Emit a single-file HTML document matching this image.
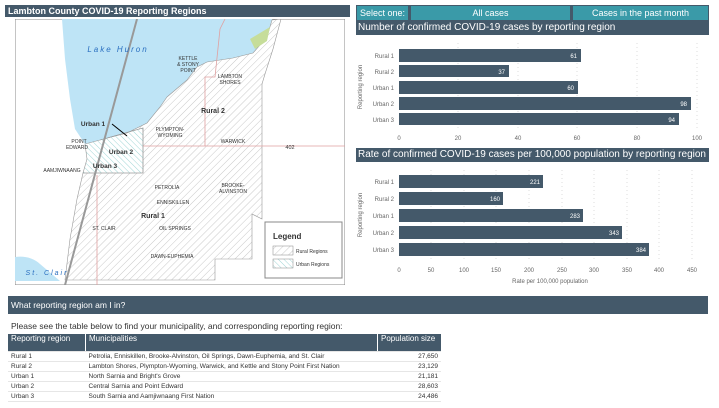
<!DOCTYPE html>
<html><head><meta charset="utf-8"><style>
body{margin:0;width:719px;height:408px;background:#fff;font-family:"Liberation Sans",sans-serif;overflow:hidden;position:relative}
.a{position:absolute}
.dk{background:#44596a;color:#fff}
.tl{background:#3a9aa8;color:#fff;text-align:center;font-size:9px;line-height:14px}
table{border-collapse:collapse;font-size:6.5px;color:#333}
td{padding:0 3px;height:9px;border-bottom:1px solid #e6e6e6;white-space:nowrap}
</style></head><body>
<div class="a dk" style="left:5px;top:5px;width:345px;height:12px;font-size:9px;font-weight:bold;line-height:12px;padding-left:3px;box-sizing:border-box">Lambton County COVID-19 Reporting Regions</div>
<svg class="a" style="left:15px;top:19px" width="330" height="266" viewBox="0 0 330 266">
<defs>
<pattern id="r" width="5" height="5" patternUnits="userSpaceOnUse" patternTransform="rotate(45)"><line x1="0" y1="0" x2="0" y2="5" stroke="#bbb" stroke-width="0.8"/></pattern>
<pattern id="u" width="4" height="4" patternUnits="userSpaceOnUse" patternTransform="rotate(-45)"><line x1="0" y1="0" x2="0" y2="4" stroke="#8cc" stroke-width="0.8"/></pattern>
</defs>
<rect width="330" height="266" fill="#fff" stroke="#888"/>
<path d="M47 0 L257 0 L252 18 L238 34 L218 39 L192 43 L182 48 L172 61 L152 78 L145 88 L132 104 L112 114 L85 121 L70 125 L60 110 L55 80 L50 40 Z" fill="#bee4f6"/>
<path d="M0 238 Q15 236 25 245 L45 262 L0 262Z" fill="#bee4f6"/>
<path d="M85 121 L112 114 L132 104 L145 88 L152 78 L172 61 L182 48 L192 43 L218 39 L238 34 L252 18 L257 1 L266 0 L258 30 L250 55 L247 65 L247 200 L237 195 L237 240 L200 240 L200 261 L50 261 L55 220 L62 180 L68 154 L128 154 L128 109 L85 121 Z" fill="url(#r)" stroke="#999" stroke-width="0.6"/>
<path d="M70 125 L85 121 L128 109 L128 154 L68 154 L72 140 Z" fill="url(#u)" stroke="#999" stroke-width="0.6"/>
<path d="M235 20 L255 8 L252 22 L240 30Z" fill="#c6dd9a"/>
<path d="M128 127 L330 127 M190 127 L190 58 L200 58 L205 10 L210 0 M82 156 L82 266" stroke="#e0a0a0" stroke-width="0.8" fill="none"/>
<line x1="122" y1="0" x2="50" y2="266" stroke="#999" stroke-width="2"/>
<line x1="97" y1="105" x2="112" y2="117" stroke="#000" stroke-width="1"/>
<g font-size="5px" fill="#333" text-anchor="middle">
<text x="103" y="33" font-size="8px" fill="#2a6fc0" font-style="italic" letter-spacing="2">Lake Huron</text>
<text x="173" y="41">KETTLE</text><text x="173" y="47">&amp; STONY</text><text x="173" y="53">POINT</text>
<text x="215" y="59">LAMBTON</text><text x="215" y="65">SHORES</text>
<text x="198" y="94" font-size="7px" font-weight="bold">Rural 2</text>
<text x="78" y="107" font-size="6.5px" font-weight="bold">Urban 1</text>
<text x="155" y="112">PLYMPTON-</text><text x="155" y="118">WYOMING</text>
<text x="218" y="124">WARWICK</text>
<text x="64" y="124">POINT</text><text x="62" y="130">EDWARD</text>
<text x="106" y="135" font-size="6.5px" font-weight="bold">Urban 2</text>
<text x="90" y="149" font-size="6.5px" font-weight="bold">Urban 3</text>
<text x="47" y="153">AAMJIWNAANG</text>
<text x="152" y="170">PETROLIA</text><text x="218" y="168">BROOKE-</text><text x="218" y="174">ALVINSTON</text>
<text x="158" y="185">ENNISKILLEN</text>
<text x="138" y="199" font-size="7px" font-weight="bold">Rural 1</text>
<text x="89" y="211">ST. CLAIR</text><text x="160" y="211">OIL SPRINGS</text>
<text x="157" y="239">DAWN-EUPHEMIA</text>
<text x="32" y="256" font-size="7px" fill="#2a6fc0" font-style="italic" letter-spacing="2">St. Clair</text>
<text x="275" y="130" font-size="5.5px">402</text>
</g>
<rect x="250" y="203" width="77" height="56" fill="#fff" stroke="#888"/>
<text x="258" y="220" font-size="8px" font-weight="bold" fill="#333">Legend</text>
<rect x="258" y="227" width="20" height="9" fill="url(#r)" stroke="#888" stroke-width="0.5"/><text x="281" y="234" font-size="5px" fill="#333">Rural Regions</text>
<rect x="258" y="240" width="20" height="9" fill="url(#u)" stroke="#888" stroke-width="0.5"/><text x="281" y="247" font-size="5px" fill="#333">Urban Regions</text>
</svg>

<div class="a dk" style="left:356px;top:5px;width:353px;height:16px"></div>
<div class="a tl" style="left:357px;top:6px;width:51px">Select one:</div>
<div class="a tl" style="left:411px;top:6px;width:159px">All cases</div>
<div class="a tl" style="left:573px;top:6px;width:135px">Cases in the past month</div>
<div class="a dk" style="left:356px;top:21px;width:353px;height:14px;font-size:10px;line-height:14px;padding-left:2px;box-sizing:border-box">Number of confirmed COVID-19 cases by reporting region</div>
<div class="a dk" style="left:356px;top:148px;width:353px;height:14px;font-size:10px;line-height:14px;padding-left:2px;box-sizing:border-box">Rate of confirmed COVID-19 cases per 100,000 population by reporting region</div>

<svg class="a" style="left:355px;top:35px" width="364" height="113" font-size="6px" fill="#666">
<g stroke="#ddd" stroke-dasharray="1 3"><line x1="103" y1="8" x2="103" y2="95"/><line x1="163" y1="8" x2="163" y2="95"/><line x1="222" y1="8" x2="222" y2="95"/><line x1="282" y1="8" x2="282" y2="95"/><line x1="342" y1="8" x2="342" y2="95"/></g>
<g fill="#44596a"><rect x="44" y="14" width="182" height="13"/><rect x="44" y="30" width="110" height="12"/><rect x="44" y="46" width="179" height="13"/><rect x="44" y="62" width="292" height="13"/><rect x="44" y="78" width="280" height="12"/></g>
<g fill="#fff" text-anchor="end"><text x="222" y="23">61</text><text x="150" y="39">37</text><text x="219" y="55">60</text><text x="332" y="71">98</text><text x="320" y="87">94</text></g>
<g text-anchor="end"><text x="39" y="23">Rural 1</text><text x="39" y="39">Rural 2</text><text x="39" y="55">Urban 1</text><text x="39" y="71">Urban 2</text><text x="39" y="87">Urban 3</text></g>
<g text-anchor="middle"><text x="44" y="105">0</text><text x="103" y="105">20</text><text x="163" y="105">40</text><text x="222" y="105">60</text><text x="282" y="105">80</text><text x="342" y="105">100</text></g>
<text transform="translate(7,52) rotate(-90)" text-anchor="middle">Reporting region</text>
</svg>

<svg class="a" style="left:355px;top:162px" width="364" height="128" font-size="6px" fill="#666">
<g stroke="#ddd" stroke-dasharray="1 3"><line x1="76" y1="8" x2="76" y2="98"/><line x1="109" y1="8" x2="109" y2="98"/><line x1="141" y1="8" x2="141" y2="98"/><line x1="174" y1="8" x2="174" y2="98"/><line x1="207" y1="8" x2="207" y2="98"/><line x1="239" y1="8" x2="239" y2="98"/><line x1="272" y1="8" x2="272" y2="98"/><line x1="304" y1="8" x2="304" y2="98"/><line x1="337" y1="8" x2="337" y2="98"/></g>
<g fill="#44596a"><rect x="44" y="13" width="144" height="13"/><rect x="44" y="30" width="104" height="13"/><rect x="44" y="47" width="184" height="13"/><rect x="44" y="64" width="223" height="13"/><rect x="44" y="81" width="250" height="13"/></g>
<g fill="#fff" text-anchor="end"><text x="185" y="22">221</text><text x="145" y="39">160</text><text x="225" y="56">283</text><text x="264" y="73">343</text><text x="291" y="90">384</text></g>
<g text-anchor="end"><text x="39" y="22">Rural 1</text><text x="39" y="39">Rural 2</text><text x="39" y="56">Urban 1</text><text x="39" y="73">Urban 2</text><text x="39" y="90">Urban 3</text></g>
<g text-anchor="middle"><text x="44" y="110">0</text><text x="76" y="110">50</text><text x="109" y="110">100</text><text x="141" y="110">150</text><text x="174" y="110">200</text><text x="207" y="110">250</text><text x="239" y="110">300</text><text x="272" y="110">350</text><text x="304" y="110">400</text><text x="337" y="110">450</text></g>
<text x="195" y="121" text-anchor="middle">Rate per 100,000 population</text>
<text transform="translate(7,53) rotate(-90)" text-anchor="middle">Reporting region</text>
</svg>

<div class="a dk" style="left:8px;top:296px;width:700px;height:18px;font-size:8.5px;line-height:18px;padding-left:3px;box-sizing:border-box">What reporting region am I in?</div>
<div class="a" style="left:11px;top:321px;font-size:8.5px;color:#333">Please see the table below to find your municipality, and corresponding reporting region:</div>
<table class="a" style="left:8px;top:334px;width:433px">
<tr style="font-size:8px;color:#fff;background:#44596a"><td style="height:17px;width:71px;border-right:1px solid #fff;vertical-align:top">Reporting region</td><td style="border-right:1px solid #fff;vertical-align:top">Municipalities</td><td style="width:57px;vertical-align:top">Population size</td></tr>
<tr><td>Rural 1</td><td>Petrolia, Enniskillen, Brooke-Alvinston, Oil Springs, Dawn-Euphemia, and St. Clair</td><td style="text-align:right">27,650</td></tr>
<tr><td>Rural 2</td><td>Lambton Shores, Plympton-Wyoming, Warwick, and Kettle and Stony Point First Nation</td><td style="text-align:right">23,129</td></tr>
<tr><td>Urban 1</td><td>North Sarnia and Bright's Grove</td><td style="text-align:right">21,181</td></tr>
<tr><td>Urban 2</td><td>Central Sarnia and Point Edward</td><td style="text-align:right">28,603</td></tr>
<tr><td>Urban 3</td><td>South Sarnia and Aamjiwnaang First Nation</td><td style="text-align:right">24,486</td></tr>
</table>
</body></html>
